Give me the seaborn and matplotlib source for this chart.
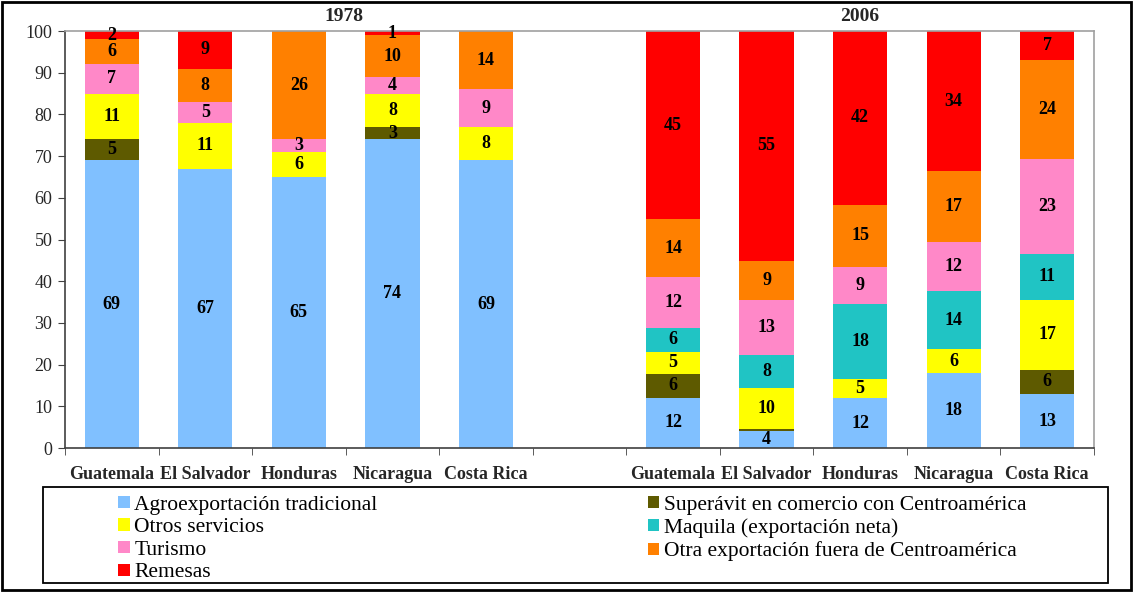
import pandas as pd
import matplotlib.pyplot as plt
import seaborn as sns
from matplotlib.patches import Patch, Rectangle

paises = ["Guatemala", "El Salvador", "Honduras", "Nicaragua", "Costa Rica"]
anios = ["1978", "2006"]

componentes = [
    "Agroexportación tradicional",
    "Superávit en comercio con Centroamérica",
    "Otros servicios",
    "Maquila (exportación neta)",
    "Turismo",
    "Otra exportación fuera de Centroamérica",
    "Remesas",
]
colores = ["#80C0FF", "#5E5A00", "#FFFF00", "#20C4C4", "#FF88C8", "#FF8000", "#FF0000"]

# valores por componente: 1978 y 2006 (Guatemala, El Salvador, Honduras, Nicaragua, Costa Rica)
agro_1978 = [69, 67, 65, 74, 69]
agro_2006 = [12.1, 4.1, 12.0, 17.9, 12.9]
superavit_1978 = [5, 0, 0, 3, 0]
superavit_2006 = [5.7, 0.4, 0, 0, 5.9]
otros_1978 = [11, 11, 6, 8, 8]
otros_2006 = [5.3, 10.0, 4.6, 5.8, 16.8]
maquila_1978 = [0, 0, 0, 0, 0]
maquila_2006 = [5.8, 7.9, 18.0, 13.9, 10.9]
turismo_1978 = [7, 5, 3, 4, 9]
turismo_2006 = [12.1, 13.1, 8.9, 11.8, 22.8]
otra_1978 = [6, 8, 26, 10, 14]
otra_2006 = [13.9, 9.4, 14.8, 17.0, 23.7]
remesas_1978 = [2, 9, 0, 1, 0]
remesas_2006 = [45.1, 55.1, 41.7, 33.6, 7.0]

serie = {
    componentes[0]: agro_1978 + agro_2006,
    componentes[1]: superavit_1978 + superavit_2006,
    componentes[2]: otros_1978 + otros_2006,
    componentes[3]: maquila_1978 + maquila_2006,
    componentes[4]: turismo_1978 + turismo_2006,
    componentes[5]: otra_1978 + otra_2006,
    componentes[6]: remesas_1978 + remesas_2006,
}

# posiciones: 0-4 para 1978, 6-10 para 2006 (hueco en 5)
posiciones = [0, 1, 2, 3, 4, 6, 7, 8, 9, 10]

filas = []
for comp in componentes:
    for p, v in zip(posiciones, serie[comp]):
        filas.append({"pos": p, "componente": comp, "valor": v})
df = pd.DataFrame(filas)

sns.set_style("white")
plt.rcParams["font.family"] = ["Liberation Serif", "DejaVu Serif"]

fig = plt.figure(figsize=(11.36, 5.92), dpi=100)
ax = fig.add_axes([0.0572, 0.2432, 0.9058, 0.7044])

base = pd.Series(0.0, index=posiciones)
for comp, col in zip(componentes, colores):
    sub = df[df["componente"] == comp].sort_values("pos")
    sns.barplot(data=sub, x="pos", y="valor", native_scale=True, color=col,
                saturation=1, width=0.58, errorbar=None, linewidth=0,
                bottom=base.values, ax=ax)
    # etiquetas de valor
    for p, v, b in zip(sub["pos"], sub["valor"], base.values):
        if round(v) >= 1:
            ax.text(p, b + v / 2, f"{round(v):d}", ha="center", va="center",
                    fontsize=13, fontweight="bold", color="black")
    base = base + sub["valor"].values

ax.set_xlim(-0.5, 10.5)
ax.set_ylim(0, 100)
ax.set_yticks(range(0, 101, 10))
ax.tick_params(axis="y", labelsize=13, length=5, direction="out", left=True,
               color="#404040", pad=4)
ax.set_xticks(posiciones)
ax.set_xticklabels(paises + paises, fontsize=13, fontweight="bold")
ax.set_xticks([x - 0.5 for x in range(12)], minor=True)
ax.tick_params(axis="x", which="major", length=0, pad=13)
ax.tick_params(axis="x", which="minor", length=5, direction="out", bottom=True, color="#404040")
ax.set_xlabel("")
ax.set_ylabel("")

for s in ["left", "bottom"]:
    ax.spines[s].set_color("#404040")
    ax.spines[s].set_linewidth(1.2)
for s in ["top", "right"]:
    ax.spines[s].set_color("#A0A0A0")
    ax.spines[s].set_linewidth(1.2)

# títulos de grupo
ax.text(2.48, 1.035, anios[0], transform=ax.get_xaxis_transform(), ha="center",
        va="center", fontsize=14, fontweight="bold")
ax.text(8.0, 1.035, anios[1], transform=ax.get_xaxis_transform(), ha="center",
        va="center", fontsize=14, fontweight="bold")

# leyenda en dos columnas dentro de un recuadro
handles = [Patch(facecolor=c, edgecolor="none") for c in colores]
izq = [0, 2, 4, 6]
der = [1, 3, 5]
opts = dict(frameon=False, fontsize=15.5, handlelength=0.55, handleheight=0.5,
            handletextpad=0.2, labelspacing=0.17, borderaxespad=0, borderpad=0,
            labelcolor="black")
leg1 = fig.legend([handles[i] for i in izq], [componentes[i] for i in izq],
                  loc="upper left", bbox_to_anchor=(0.104, 0.163), **opts)
leg2 = fig.legend([handles[i] for i in der], [componentes[i] for i in der],
                  loc="upper left", bbox_to_anchor=(0.570, 0.163), **opts)

fig.patches.append(Rectangle((0.0379, 0.0152), 0.9375, 0.1622, transform=fig.transFigure,
                             fill=False, edgecolor="black", linewidth=1.3))
fig.patches.append(Rectangle((0.002, 0.004), 0.994, 0.992, transform=fig.transFigure,
                             fill=False, edgecolor="black", linewidth=2))

fig.savefig("out.png", dpi=100)
